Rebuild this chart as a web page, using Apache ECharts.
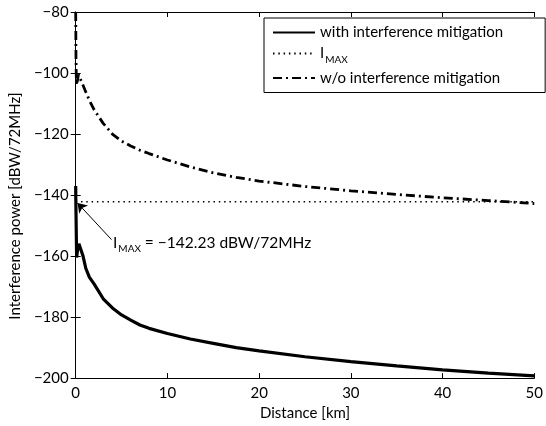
<!DOCTYPE html>
<html>
<head>
<meta charset="utf-8">
<script src="https://cdn.jsdelivr.net/npm/echarts@6/dist/echarts.min.js"></script>
<style>html,body{margin:0;padding:0;background:#fff}#c{width:546px;height:426px}</style>
</head>
<body>
<div id="c"></div>
<script>
// Distance [km] sample points
var distWith = [0, 0.02, 0.1, 0.2, 0.35, 0.5, 0.8, 1.1, 1.5, 2, 3, 4, 5, 6, 7, 8, 10, 12.5, 15, 17.5, 20, 25, 30, 35, 40, 45, 50];
// with interference mitigation [dBW/72MHz]
var powerWith = [-137, -143, -160.5, -158, -156, -155.6, -160, -164, -167, -169.1, -174, -177, -179.3, -181, -182.6, -183.7, -185.4, -187.2, -188.6, -190, -191.1, -193, -194.6, -196, -197.3, -198.4, -199.3];
var distWo = [0, 0.03, 0.08, 0.15, 0.3, 0.5, 0.8, 1.0, 1.5, 2, 3, 4, 5, 6, 7, 8, 10, 12.5, 15, 17.5, 20, 25, 30, 35, 40, 45, 50];
// w/o interference mitigation [dBW/72MHz]
var powerWo = [-80, -95, -104, -103, -100.5, -101, -104, -105.5, -109, -112, -116.5, -120, -122.3, -123.9, -125.3, -126.4, -128.5, -130.8, -132.7, -134.2, -135.4, -137.2, -138.6, -139.8, -140.9, -141.8, -142.8];
var IMAX = -142.23;
var xRange = [0, 50];
var xTicks = [0, 10, 20, 30, 40, 50];
var yTicks = [-200, -180, -160, -140, -120, -100, -80];
var seriesNames = ['with interference mitigation', 'I_MAX', 'w/o interference mitigation'];
// arrow from label to I_MAX at distance 0
var arrowFrom = [3.9, -154.6];
var arrowTo = [0.2, IMAX - 0.4];

var FONT = 'Lato';
function minus(v){ return String(v).replace('-', '\u2212'); }
function zip(a, b){ return a.map(function(x, i){ return [x, b[i]]; }); }

var chart = echarts.init(document.getElementById('c'), null, {renderer: 'canvas'});
var axisLineStyle = {color: '#000', width: 1};
var option = {
  animation: false,
  textStyle: {fontFamily: FONT, color: '#000'},
  grid: {left: 71, top: 12, width: 467, height: 370, containLabel: false},
  xAxis: [{
    type: 'value', min: xRange[0], max: xRange[1], interval: 10,
    name: 'Distance [km]', nameLocation: 'middle', nameGap: 22,
    nameTextStyle: {fontSize: 15, color: '#000', fontFamily: FONT},
    axisLine: {lineStyle: axisLineStyle}, axisTick: {inside: true, length: 5, lineStyle: axisLineStyle},
    axisLabel: {fontSize: 15, color: '#000', margin: 8, fontFamily: FONT},
    splitLine: {show: false}
  }, {
    type: 'value', position: 'top', min: xRange[0], max: xRange[1], interval: 10,
    axisLine: {show: true, lineStyle: axisLineStyle}, axisTick: {inside: true, length: 5, lineStyle: axisLineStyle},
    axisLabel: {show: false}, splitLine: {show: false}
  }],
  yAxis: [{
    type: 'value', min: -200, max: -80, interval: 20,
    name: 'Interference power [dBW/72MHz]', nameLocation: 'middle', nameGap: 48,
    nameTextStyle: {fontSize: 15, color: '#000', fontFamily: FONT, padding: [0, 22, 0, 0]},
    axisLine: {show: true, lineStyle: axisLineStyle}, axisTick: {inside: true, length: 5, lineStyle: axisLineStyle},
    axisLabel: {fontSize: 15, color: '#000', margin: 7, fontFamily: FONT, formatter: function(v){ return minus(v); }},
    splitLine: {show: false}
  }, {
    type: 'value', position: 'right', min: -200, max: -80, interval: 20,
    axisLine: {show: true, lineStyle: axisLineStyle}, axisTick: {inside: true, length: 5, lineStyle: axisLineStyle},
    axisLabel: {show: false}, splitLine: {show: false}
  }],
  legend: {
    orient: 'vertical', left: 264, top: 18,
    padding: [7, 42, 7, 8], itemGap: 6,
    itemWidth: 42, itemHeight: 14,
    borderColor: '#000', borderWidth: 1, borderRadius: 0, backgroundColor: '#fff',
    itemStyle: {color: 'rgba(0,0,0,0)', borderWidth: 0, opacity: 0},
    data: seriesNames,
    textStyle: {fontSize: 15, color: '#000', fontFamily: FONT,
      rich: {m: {fontSize: 15, fontFamily: FONT, color: '#000'},
             s: {fontSize: 10, fontFamily: FONT, color: '#000', padding: [12, 0, 0, 1]}}},
    formatter: function(n){ return n === 'I_MAX' ? '{m|I}{s|MAX}' : n; }
  },
  series: [{
    name: seriesNames[0], type: 'line', data: zip(distWith, powerWith),
    showSymbol: false, symbol: 'none', smooth: false,
    lineStyle: {color: '#000', width: 3.2, type: 'solid'}, itemStyle: {color: '#000'}, z: 3
  }, {
    name: seriesNames[1], type: 'line', data: [[xRange[0], IMAX], [xRange[1], IMAX]],
    showSymbol: false, symbol: 'none',
    lineStyle: {color: '#000', width: 1.5, type: [1.5, 3.8]}, itemStyle: {color: '#000'},
    markLine: {
      silent: true, symbol: ['none', 'arrow'], symbolSize: 9,
      lineStyle: {color: '#000', width: 1, type: 'solid'},
      itemStyle: {color: '#000'},
      label: {show: false},
      data: [[{coord: arrowFrom}, {coord: arrowTo}]]
    }
  }, {
    name: seriesNames[2], type: 'line', data: zip(distWo, powerWo),
    showSymbol: false, symbol: 'none',
    lineStyle: {color: '#000', width: 2.8, type: [9, 4, 2, 4]}, itemStyle: {color: '#000'}
  }],
  graphic: [{
    type: 'text', left: 113, top: 235,
    style: {
      text: '{m|I}{s|MAX}{m| = ' + minus(IMAX.toFixed(2)) + ' dBW/72MHz}',
      rich: {m: {fontSize: 15.5, fontFamily: FONT, fill: '#000'},
             s: {fontSize: 10, fontFamily: FONT, fill: '#000', padding: [12, 0, 0, 1]}}
    }
  }]
};
chart.setOption(option);
</script>
</body>
</html>
